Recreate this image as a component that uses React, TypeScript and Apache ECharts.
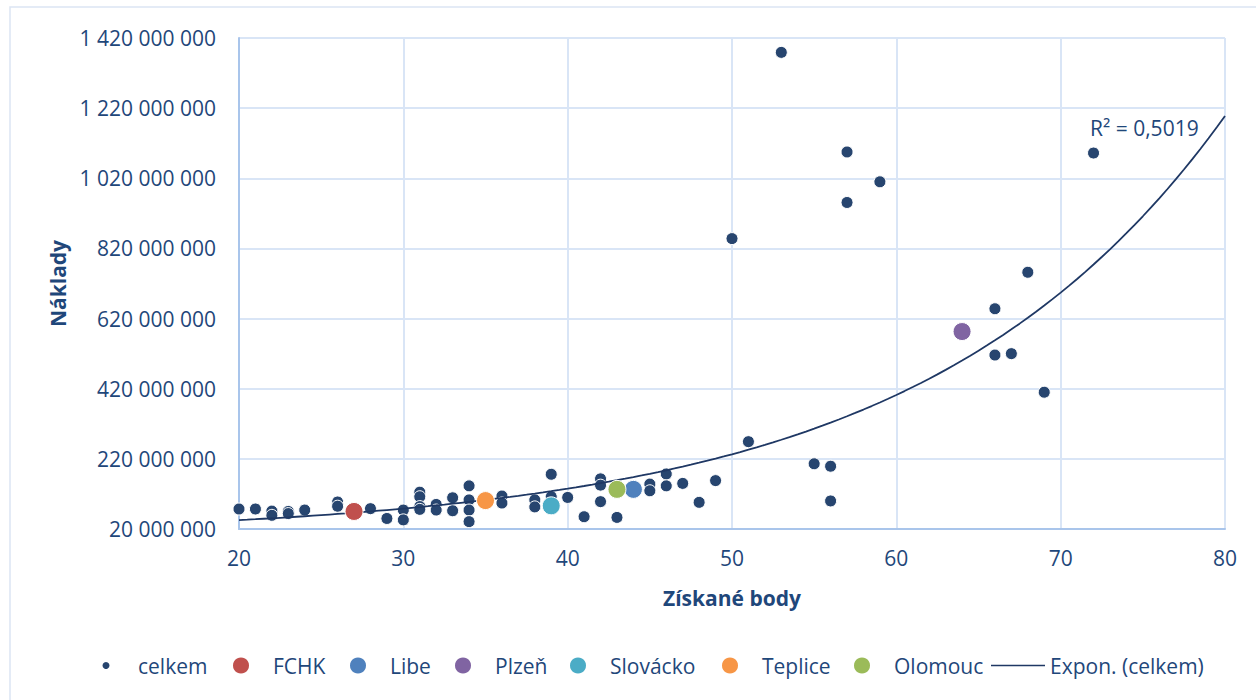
import React, { useEffect, useRef } from "react";
import * as echarts from "echarts";

// ---- Data ----
const celkemX = [20, 21, 22, 22, 23, 23, 24, 26, 26, 27, 28, 29, 30, 30, 31, 31, 31, 31, 32, 32, 33, 33, 34, 34, 34, 34, 35, 36, 36, 38, 38, 39, 39, 39, 40, 41, 42, 42, 42, 43, 43, 44, 45, 45, 46, 46, 47, 48, 49, 50, 51, 53, 55, 56, 56, 57, 57, 59, 64, 66, 66, 67, 68, 69, 72];
const celkemY = [77, 77, 71, 59, 70, 64, 74, 97, 85, 70, 78, 50, 74, 46, 125, 112, 84, 76, 90, 74, 109, 72, 143, 103, 74, 41, 101, 114, 94, 103, 83, 176, 112, 86, 110, 55, 163, 145, 98, 133, 53, 133, 148, 129, 177, 143, 150, 96, 158, 848, 269, 1379, 206, 199, 100, 1095, 951, 1010, 583, 648, 516, 520, 752, 410, 1092];

const highlightNames = ["FCHK", "Libe", "Plzeň", "Slovácko", "Teplice", "Olomouc"];
const highlightX = [27, 44, 64, 39, 35, 43];
const highlightY = [70, 133, 583, 86, 101, 133];
const highlightColors = ["#C0504D", "#4F81BD", "#8064A2", "#4BACC6", "#F79646", "#9BBB59"];

const yTicks = [20, 1420]; // min, max in millions
const yStep = 200;
const xTicks = [20, 80];
const xStep = 10;
const rSquaredLabel = "R² = 0,5019";
const MILLION = 1000000;

function fmt(v: number) {
  return String(Math.round(v)).replace(/\B(?=(\d{3})+(?!\d))/g, " ");
}

// Exponential least-squares fit (as Excel's "Expon." trendline) on celkem
function expFit(xs: number[], ys: number[]) {
  const n = xs.length;
  let sx = 0, sy = 0, sxx = 0, sxy = 0;
  for (let i = 0; i < n; i++) {
    const lx = xs[i];
    const ly = Math.log(ys[i]);
    sx += lx; sy += ly; sxx += lx * lx; sxy += lx * ly;
  }
  const b = (n * sxy - sx * sy) / (n * sxx - sx * sx);
  const a = Math.exp((sy - b * sx) / n);
  return { a, b };
}

export default function App() {
  const ref = useRef<HTMLDivElement>(null);
  useEffect(() => {
    document.body.style.margin = "0";
    if (!ref.current) return;
    const chart = echarts.init(ref.current, undefined, { renderer: "svg" });
    const font = "'Open Sans', 'Noto Sans', sans-serif";
    const textColor = "#1F477A";
    const darkColor = "#27456F";
    const trendColor = "#1F3864";
    const { a, b } = expFit(celkemX, celkemY);
    const trend: number[][] = [];
    for (let x = xTicks[0]; x <= xTicks[1] + 1e-9; x += 0.5) {
      trend.push([x, a * Math.exp(b * x) * MILLION]);
    }
    const series: any[] = [
      {
        name: "celkem",
        type: "scatter",
        symbol: "circle",
        symbolSize: 12,
        itemStyle: { color: darkColor, borderColor: "#ffffff", borderWidth: 1, opacity: 1 },
        data: celkemX.map((x, i) => [x, celkemY[i] * MILLION]),
        z: 2,
      },
    ];
    highlightNames.forEach((nm, i) => {
      series.push({
        name: nm,
        type: "scatter",
        symbol: "circle",
        symbolSize: 18,
        itemStyle: { color: highlightColors[i], borderColor: "#ffffff", borderWidth: 1, opacity: 1 },
        data: [[highlightX[i], highlightY[i] * MILLION]],
        z: 4,
      });
    });
    series.push({
      name: "Expon. (celkem)",
      type: "line",
      showSymbol: false,
      symbol: "none",
      smooth: false,
      itemStyle: { color: trendColor },
      lineStyle: { color: trendColor, width: 1.8 },
      data: trend,
      z: 3,
    });

    const legendText = { fontFamily: font, fontSize: 21, color: textColor };
    const legendTop = 655;
    // circle centres from the reference legend
    const symLegendPos: [string, number][] = [
      ["FCHK", 240],
      ["Libe", 357],
      ["Plzeň", 462],
      ["Slovácko", 577],
      ["Teplice", 729],
      ["Olomouc", 861],
    ];
    const symR = 9;
    const legends: any[] = [
      {
        data: [{ name: "celkem", icon: "circle" }],
        left: 105 - 4.5,
        top: legendTop,
        itemWidth: 54,
        itemHeight: 9,
        padding: 0,
        textStyle: legendText,
      },
      ...symLegendPos.map(([nm, cx]) => ({
        data: [{ name: nm, icon: "circle" }],
        left: cx - symR,
        top: legendTop,
        itemWidth: 54,
        itemHeight: symR * 2,
        padding: 0,
        textStyle: legendText,
      })),
      {
        data: [{ name: "Expon. (celkem)", icon: "path://M0,0 L100,0 L100,3.2 L0,3.2 Z" }],
        left: 991,
        top: legendTop,
        itemWidth: 54,
        itemHeight: 18,
        padding: 0,
        textStyle: legendText,
      },
    ];

    chart.setOption({
      animation: false,
      backgroundColor: "#ffffff",
      textStyle: { fontFamily: font },
      grid: { left: 239, right: 31, top: 38, bottom: 171, containLabel: false },
      xAxis: {
        type: "value",
        min: xTicks[0],
        max: xTicks[1],
        interval: xStep,
        name: "Získané body",
        nameLocation: "middle",
        nameGap: 58,
        nameTextStyle: { fontFamily: font, fontSize: 21, fontWeight: "bold", color: textColor },
        axisLine: { show: true, lineStyle: { color: "#A9C5EB", width: 2 } },
        axisTick: { show: false },
        axisLabel: { fontFamily: font, fontSize: 21, color: textColor, margin: 18 },
        splitLine: { show: true, lineStyle: { color: "#D9E5F6", width: 2 } },
      },
      yAxis: {
        type: "value",
        min: yTicks[0] * MILLION,
        max: yTicks[1] * MILLION,
        interval: yStep * MILLION,
        name: "Náklady",
        nameLocation: "middle",
        nameGap: 170,
        nameRotate: 90,
        nameTextStyle: { fontFamily: font, fontSize: 21, fontWeight: "bold", color: textColor },
        axisLine: { show: true, lineStyle: { color: "#A9C5EB", width: 2 } },
        axisTick: { show: false },
        axisLabel: { fontFamily: font, fontSize: 21, color: textColor, margin: 23, formatter: (v: number) => fmt(v) },
        splitLine: { show: true, lineStyle: { color: "#D9E5F6", width: 2 } },
      },
      legend: legends,
      graphic: [
        {
          type: "rect",
          shape: { x: 10, y: 7, width: 1300, height: 760 },
          style: { fill: "none", stroke: "#DCE5F3", lineWidth: 1.5 },
          silent: true,
          z: -10,
        },
        {
          type: "text",
          x: 1090,
          y: 128,
          style: { text: rSquaredLabel, fontFamily: font, fontSize: 21, fill: textColor, verticalAlign: "middle" },
          z: 10,
        },
      ],
      series,
    });
    return () => chart.dispose();
  }, []);
  return <div ref={ref} style={{ width: 1256, height: 700 }} />;
}
